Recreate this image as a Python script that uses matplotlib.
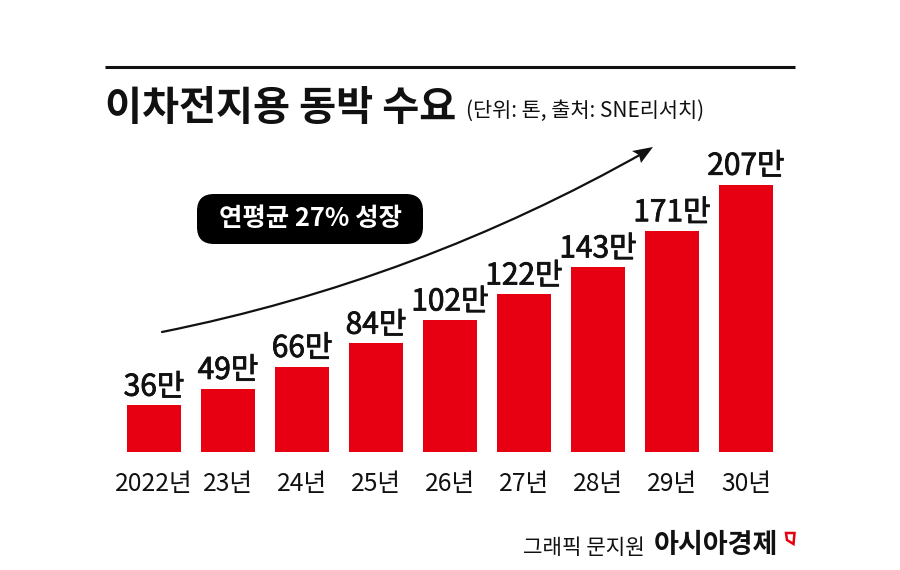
import matplotlib
matplotlib.use("Agg")
import matplotlib.pyplot as plt
import matplotlib.patheffects as pe
from matplotlib.patches import FancyBboxPatch, FancyArrowPatch, Polygon

plt.rcParams['font.family'] = ['Noto Sans CJK KR', 'DejaVu Sans']

categories = ['2022년', '23년', '24년', '25년', '26년', '27년', '28년', '29년', '30년']
values = [36, 49, 66, 84, 102, 122, 143, 171, 207]
value_labels = ['36만', '49만', '66만', '84만', '102만', '122만', '143만', '171만', '207만']
title = '이차전지용 동박 수요'
subtitle = '(단위: 톤, 출처: SNE리서치)'
badge = '연평균 27% 성장'
credit = '그래픽 문지원'
brand = '아시아경제'

W, H = 900, 570
fig = plt.figure(figsize=(W/100, H/100), dpi=100, facecolor='white')

ax = fig.add_axes([117/W, 1-452/H, 666/W, 290/H])
ax.bar(range(len(values)), values, width=0.72, color='#e60012')
ax.set_xlim(-0.5, 8.5)
ax.set_ylim(0, 207*290/267.5)
for s in ax.spines.values():
    s.set_visible(False)
ax.set_yticks([])
ax.set_xticks(range(len(categories)))
ax.set_xticklabels(categories, fontsize=17.8, color='#111111')
ax.tick_params(axis='x', length=0, pad=14)
for i, (v, l) in enumerate(zip(values, value_labels)):
    ax.annotate(l, (i, v), xytext=(0, 2), textcoords='offset points', ha='center', va='bottom',
                fontsize=21.5, color='#111111',
                path_effects=[pe.withStroke(linewidth=0.6, foreground='#111111')])

ov = fig.add_axes([0, 0, 1, 1], facecolor='none')
ov.set_xlim(0, W); ov.set_ylim(H, 0); ov.axis('off')
ov.plot([105, 795], [67, 67], color='#111111', lw=2.2, solid_capstyle='butt')
ov.text(105, 109, title, fontsize=29, fontweight='bold', va='center', ha='left', color='#111111')
ov.text(466, 111, subtitle, fontsize=15, va='center', ha='left', color='#111111')
ov.add_patch(FancyBboxPatch((197, 194), 226, 50, boxstyle='round,pad=0,rounding_size=17',
                            fc='black', ec='none'))
ov.text(310, 219, badge, fontsize=18.3, fontweight='bold', color='white', ha='center', va='center')
ov.add_patch(FancyArrowPatch((162, 332), (645, 152), connectionstyle='arc3,rad=0.08',
                             arrowstyle='-', color='#111111', lw=1.6,
                             shrinkA=0, shrinkB=0))
ov.add_patch(Polygon([(653, 147), (632, 151), (639, 155), (641, 163)], closed=True,
                     fc='#111111', ec='none'))
ov.text(645, 548, credit, fontsize=15.3, va='center', ha='right', color='#111111')
ov.text(654, 545, brand, fontsize=19.5, fontweight='bold', va='center', ha='left', color='#111111')
ov.add_patch(Polygon([(786, 533), (794.5, 533), (793.5, 544), (787, 540)], closed=True,
                     fc='white', ec='#e60012', lw=1.8))
fig.savefig('out.png', dpi=100)
